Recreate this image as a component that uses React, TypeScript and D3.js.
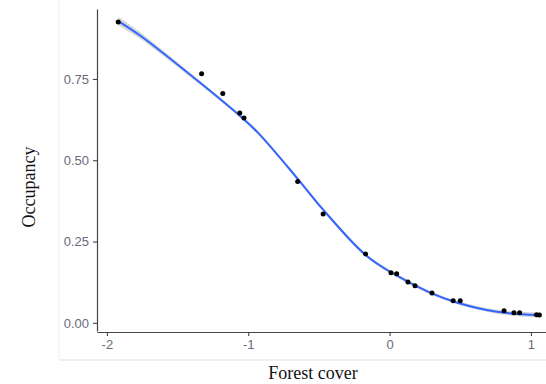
import { useEffect, useRef } from 'react';
import * as d3 from 'd3';

// observed sites
const siteForest = [-1.92, -1.33, -1.18, -1.06, -1.03, -0.65, -0.47, -0.17, 0.01, 0.05, 0.13, 0.18, 0.30, 0.45, 0.50, 0.81, 0.88, 0.92, 1.04, 1.06];
const siteOcc = [0.925, 0.766, 0.705, 0.645, 0.630, 0.435, 0.335, 0.212, 0.154, 0.151, 0.126, 0.114, 0.092, 0.068, 0.068, 0.037, 0.031, 0.031, 0.025, 0.024];

// fitted curve + standard error band
const fitForest = [-1.92, -1.76, -1.34, -1.05, -0.93, -0.65, -0.47, -0.17, 0.04, 0.29, 0.48, 0.76, 1.05];
const fitOcc = [0.928, 0.882, 0.738, 0.633, 0.584, 0.443, 0.348, 0.209, 0.148, 0.092, 0.062, 0.034, 0.024];
const fitSe = [0.013, 0.01, 0.006, 0.005, 0.005, 0.005, 0.005, 0.005, 0.005, 0.005, 0.005, 0.006, 0.008];

const xTicks = [-2, -1, 0, 1];
const yTicks = [0, 0.25, 0.5, 0.75];

const W = 546;
const H = 384;

function OccupancyChart() {
  const ref = useRef<SVGSVGElement>(null);

  useEffect(() => {
    if (!ref.current) return;
    const svg = d3.select(ref.current);
    svg.selectAll('*').remove();

    const x = d3.scaleLinear().domain([-2.07, 1.22]).range([97, 562]);
    const y = d3.scaleLinear().domain([-0.025, 0.965]).range([331, 9]);

    // faint page frame lines from the source figure
    svg.append('line').attr('x1', 59).attr('x2', 59).attr('y1', 0).attr('y2', 360)
      .attr('stroke', '#ececec').attr('stroke-width', 1);
    svg.append('line').attr('x1', 59).attr('x2', W).attr('y1', 360).attr('y2', 360)
      .attr('stroke', '#e2e2e2').attr('stroke-width', 1);

    const fit = fitForest.map((f, i) => ({ f, o: fitOcc[i], se: fitSe[i] }));

    svg.append('path').datum(fit)
      .attr('fill', '#999').attr('fill-opacity', 0.4)
      .attr('d', d3.area<{ f: number; o: number; se: number }>()
        .x(d => x(d.f)).y0(d => y(d.o - d.se)).y1(d => y(d.o + d.se))
        .curve(d3.curveCatmullRom));

    svg.append('path').datum(fit)
      .attr('fill', 'none').attr('stroke', '#3366ff').attr('stroke-width', 2)
      .attr('d', d3.line<{ f: number; o: number }>()
        .x(d => x(d.f)).y(d => y(d.o)).curve(d3.curveCatmullRom));

    svg.append('g').selectAll('circle')
      .data(siteForest.map((f, i) => ({ f, o: siteOcc[i] })))
      .join('circle')
      .attr('cx', d => x(d.f)).attr('cy', d => y(d.o))
      .attr('r', 2.5).attr('fill', '#000');

    const styleAxis = (g: d3.Selection<SVGGElement, unknown, null, undefined>) => {
      g.select('.domain').attr('stroke', '#444').attr('stroke-width', 1.2);
      g.selectAll('.tick line').attr('stroke', '#444').attr('stroke-width', 1.1);
      g.selectAll('.tick text').attr('fill', '#6a6a78')
        .attr('font-family', 'Liberation Sans, Arial, sans-serif').attr('font-size', 13);
    };

    svg.append('g').attr('transform', 'translate(0,332)')
      .call(d3.axisBottom(x).tickValues(xTicks).tickSize(4).tickSizeOuter(0).tickPadding(4)
        .tickFormat(d => String(d)))
      .call(styleAxis);

    svg.append('g').attr('transform', 'translate(97,0)')
      .call(d3.axisLeft(y).tickValues(yTicks).tickSize(4).tickSizeOuter(0).tickPadding(4)
        .tickFormat(d => (d as number).toFixed(2)))
      .call(styleAxis);

    svg.append('text').attr('x', 313).attr('y', 379)
      .attr('text-anchor', 'middle').attr('font-family', 'Liberation Serif, Times New Roman, serif')
      .attr('font-size', 18).attr('fill', '#111').text('Forest cover');

    svg.append('text').attr('transform', 'translate(35,187) rotate(-90)')
      .attr('text-anchor', 'middle').attr('font-family', 'Liberation Serif, Times New Roman, serif')
      .attr('font-size', 18).attr('fill', '#111').text('Occupancy');
  }, []);

  return <svg ref={ref} width={W} height={H} style={{ position: 'absolute', left: 0, top: 0, background: '#fff' }} />;
}

export default function App() {
  return <OccupancyChart />;
}
